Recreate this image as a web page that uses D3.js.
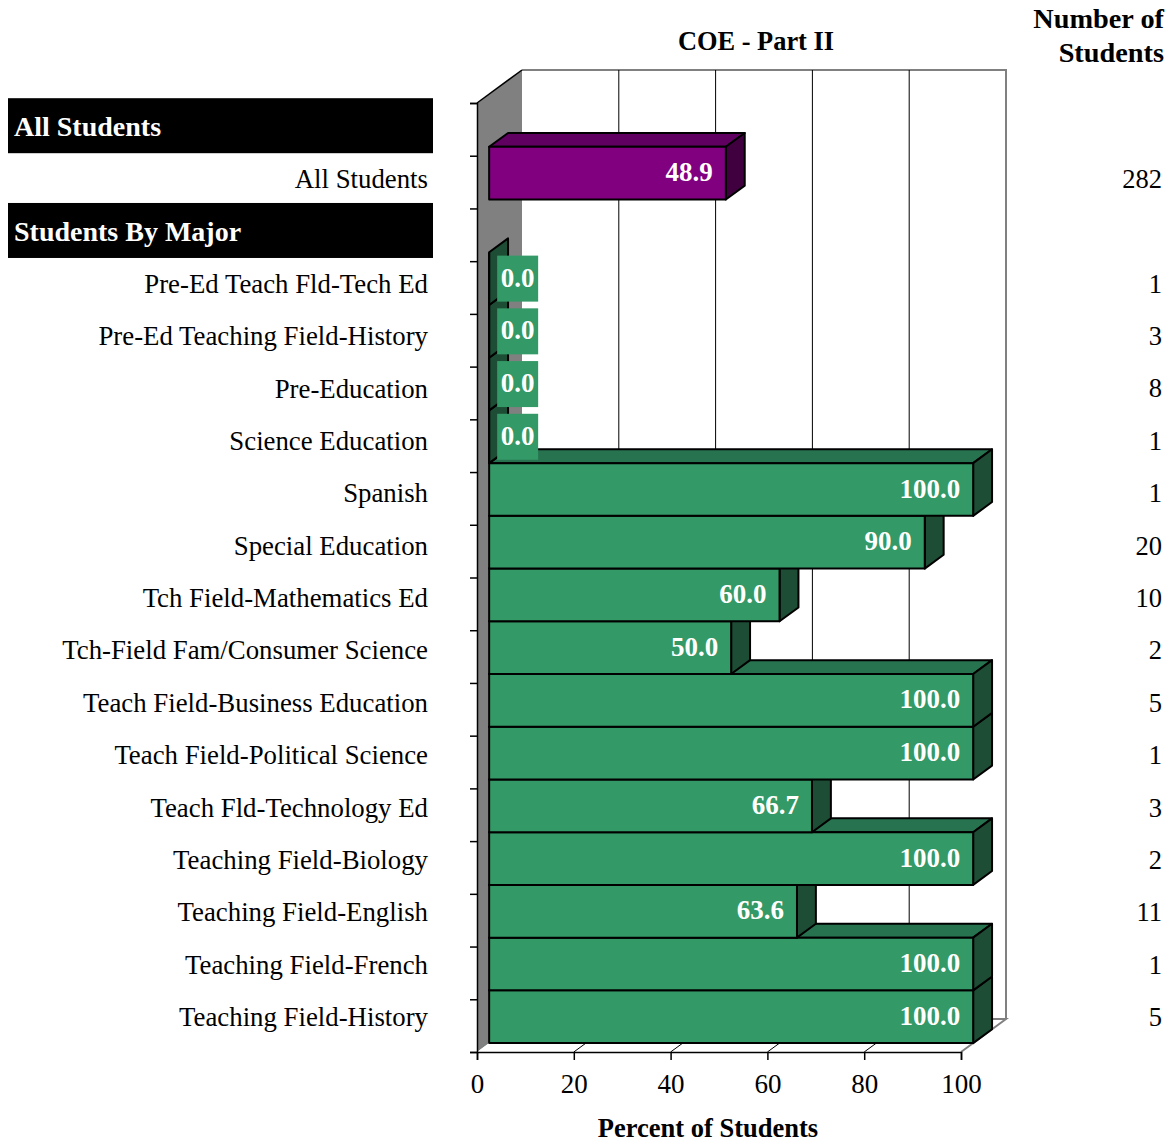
<!DOCTYPE html>
<html><head><meta charset="utf-8">
<script src="https://cdn.jsdelivr.net/npm/d3@7"></script>
<style>
body{margin:0;background:#fff}
text{font-family:"Liberation Serif","Times New Roman",serif}
</style>
</head><body>
<svg id="c" width="1168" height="1142"></svg>
<script>
// ---- data ----
const rowLabels = ["All Students","All Students","Students By Major",
  "Pre-Ed Teach Fld-Tech Ed","Pre-Ed Teaching Field-History","Pre-Education","Science Education",
  "Spanish","Special Education","Tch Field-Mathematics Ed","Tch-Field Fam/Consumer Science",
  "Teach Field-Business Education","Teach Field-Political Science","Teach Fld-Technology Ed",
  "Teaching Field-Biology","Teaching Field-English","Teaching Field-French","Teaching Field-History"];
const rowTypes = ["header","bar","header","bar","bar","bar","bar","bar","bar","bar","bar","bar","bar","bar","bar","bar","bar","bar"];
const percents = [null,48.9,null,0.0,0.0,0.0,0.0,100.0,90.0,60.0,50.0,100.0,100.0,66.7,100.0,63.6,100.0,100.0];
const counts = [null,282,null,1,3,8,1,1,20,10,2,5,1,3,2,11,1,5];
const xTicks = [0,20,40,60,80,100];
const title = "COE - Part II";
const xTitle = "Percent of Students";
const countTitle = ["Number of","Students"];

// ---- geometry / styles ----
const svg = d3.select("#c");
const N = rowLabels.length;
const x = d3.scaleLinear([0,100],[477,961]);
const y = d3.scaleBand(d3.range(N),[103,1052]).padding(0);
const yl = d3.scaleBand(d3.range(N),[100,1043]).padding(0);
const yLin = d3.scaleLinear([0,N],[103,1052]);
const DX = 45, DY = -33, f1 = 0.27, f2 = 0.69;
const y0 = 103, y1 = 1052;
const pal = {
  purple:{front:"#800080", top:"#600060", side:"#400040"},
  green:{front:"#339966", top:"#277350", side:"#1d4d34"}
};
const colorOf = i => i === 1 ? pal.purple : pal.green;
const pts = a => a.map(p => p.join(",")).join(" ");

// walls
svg.append("polygon").attr("points", pts([[x(0),y0],[x(0)+DX,y0+DY],[x(0)+DX,y1+DY],[x(0),y1]]))
  .attr("fill","#808080");
svg.append("rect").attr("x",x(0)+DX).attr("y",y0+DY).attr("width",x(100)-x(0)).attr("height",y1-y0)
  .attr("fill","#fff");
svg.append("polyline").attr("points", pts([[x(0)+DX,y0+DY],[x(100)+DX,y0+DY],[x(100)+DX,y1+DY]]))
  .attr("fill","none").attr("stroke","#808080").attr("stroke-width",2);
svg.append("line").attr("x1",x(0)).attr("y1",y0).attr("x2",x(0)+DX).attr("y2",y0+DY)
  .attr("stroke","#000").attr("stroke-width",1.5);
// floor
svg.append("polygon").attr("points", pts([[x(0),y1],[x(100),y1],[x(100)+DX,y1+DY],[x(0)+DX,y1+DY]]))
  .attr("fill","#fff");
svg.append("polyline").attr("points", pts([[x(100),y1],[x(100)+DX,y1+DY],[x(0)+DX,y1+DY]]))
  .attr("fill","none").attr("stroke","#808080").attr("stroke-width",2);
// back gridlines
svg.append("g").selectAll("line").data(xTicks.filter(t => t > 0 && t < 100)).join("line")
  .attr("x1",d => x(d)+DX).attr("x2",d => x(d)+DX).attr("y1",y0+DY).attr("y2",y1+DY)
  .attr("stroke","#000").attr("stroke-width",1);
// floor gridlines
svg.append("g").selectAll("line").data(xTicks.filter(t => t > 0 && t < 100)).join("line")
  .attr("x1",d => x(d)).attr("x2",d => x(d)+DX).attr("y1",y1).attr("y2",y1+DY)
  .attr("stroke","#000").attr("stroke-width",1);

// bars (drawn bottom to top)
const bw = y.bandwidth();
const bdx = DX*(f2-f1), bdy = DY*(f2-f1);
const barIdx = d3.range(N).filter(i => percents[i] !== null).reverse();
const gBars = svg.append("g");
barIdx.forEach(i => {
  const v = percents[i], c = colorOf(i);
  const xf0 = x(0)+DX*f1, xf1 = x(v)+DX*f1;
  const yf0 = y(i)+DY*f1, yf1 = y(i)+bw+DY*f1;
  const g = gBars.append("g").attr("stroke","#000").attr("stroke-width",2).attr("stroke-linejoin","round");
  if (xf1 > xf0) {
    g.append("polygon").attr("points", pts([[xf0,yf0],[xf0+bdx,yf0+bdy],[xf1+bdx,yf0+bdy],[xf1,yf0]]))
      .attr("fill",c.top);
  }
  g.append("polygon").attr("points", pts([[xf1,yf0],[xf1+bdx,yf0+bdy],[xf1+bdx,yf1+bdy],[xf1,yf1]]))
    .attr("fill",c.side);
  if (xf1 > xf0) {
    g.append("rect").attr("x",xf0).attr("y",yf0).attr("width",xf1-xf0).attr("height",yf1-yf0)
      .attr("fill",c.front);
  } else {
    g.append("line").attr("x1",xf0).attr("x2",xf0).attr("y1",yf0).attr("y2",yf1);
  }
});
// value labels
const gLab = svg.append("g");
barIdx.forEach(i => {
  const v = percents[i], c = colorOf(i);
  const xf0 = x(0)+DX*f1, xf1 = x(v)+DX*f1;
  const yc = y(i)+bw/2+DY*f1;
  if (v < 5) {
    gLab.append("rect").attr("x",xf0+8).attr("y",yc-23).attr("width",41).attr("height",46).attr("fill",c.front);
    gLab.append("text").attr("x",xf0+8+20.5).attr("y",yc).attr("dy","0.3em").attr("text-anchor","middle")
      .attr("fill","#fff").attr("font-weight","bold").attr("font-size",27).text(v.toFixed(1));
  } else {
    gLab.append("text").attr("x",xf1-13).attr("y",yc).attr("dy","0.3em").attr("text-anchor","end")
      .attr("fill","#fff").attr("font-weight","bold").attr("font-size",27).text(v.toFixed(1));
  }
});

// left axis ticks
const la = svg.append("g").attr("transform",`translate(${x(0)},0)`)
  .call(d3.axisLeft(yLin).tickValues(d3.range(N+1)).tickSize(7).tickFormat(""));
la.select(".domain").attr("stroke","#000").attr("stroke-width",1.5);
la.selectAll(".tick line").attr("stroke","#000").attr("stroke-width",1.5);

// bottom axis
const ba = svg.append("g").attr("transform",`translate(0,${y1})`)
  .call(d3.axisBottom(x).tickValues(xTicks).tickSize(8).tickPadding(14).tickFormat(d3.format("d")));
ba.select(".domain").attr("stroke","#000").attr("stroke-width",1.5);
ba.selectAll(".tick line").attr("stroke","#000").attr("stroke-width",1.5);
ba.selectAll(".tick text").attr("font-size",27).attr("font-family","'Liberation Serif','Times New Roman',serif").attr("fill","#000");

// category labels & headers
d3.range(N).forEach(i => {
  const yc = yl(i)+yl.bandwidth()/2;
  if (rowTypes[i] === "header") {
    svg.append("rect").attr("x",8).attr("y",yc-28).attr("width",425).attr("height",55).attr("fill","#000");
    svg.append("text").attr("x",14).attr("y",yc).attr("dy","0.35em").attr("fill","#fff")
      .attr("font-weight","bold").attr("font-size",28).text(rowLabels[i]);
  } else {
    svg.append("text").attr("x",428).attr("y",yc).attr("dy","0.35em").attr("text-anchor","end")
      .attr("font-size",26.8).text(rowLabels[i]);
    svg.append("text").attr("x",1162).attr("y",yc).attr("dy","0.35em").attr("text-anchor","end")
      .attr("font-size",26.5).text(counts[i]);
  }
});

// titles
svg.append("text").attr("x",756).attr("y",50).attr("text-anchor","middle").attr("font-weight","bold")
  .attr("font-size",26.4).text(title);
svg.append("text").attr("x",708).attr("y",1137).attr("text-anchor","middle").attr("font-weight","bold")
  .attr("font-size",26.5).text(xTitle);
countTitle.forEach((t,k) => svg.append("text").attr("x",1164).attr("y",28+k*34).attr("text-anchor","end")
  .attr("font-weight","bold").attr("font-size",28.3).text(t));
</script>
</body></html>
